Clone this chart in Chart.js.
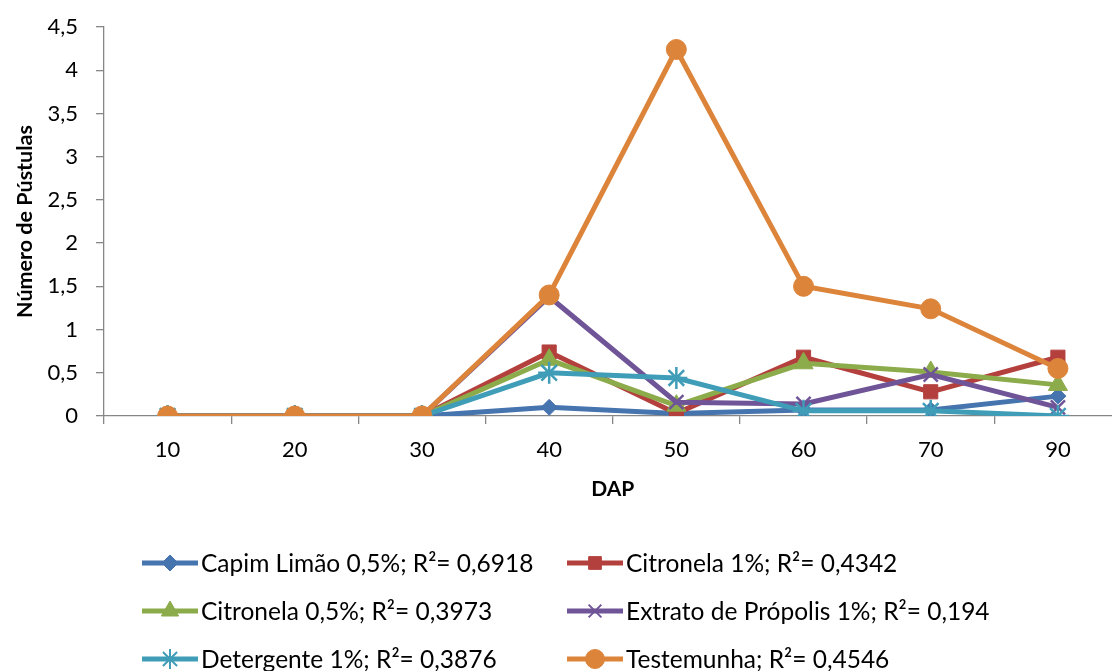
<!DOCTYPE html>
<html>
<head>
<meta charset="utf-8">
<script src="https://cdn.jsdelivr.net/npm/chart.js@4.4.1/dist/chart.umd.min.js"></script>
<style>
html,body{margin:0;padding:0;background:#fff;overflow:hidden;width:1112px;height:671px;}
#wrap{position:absolute;left:0;top:0;width:1135px;height:671px;}
</style>
</head>
<body>
<div id="wrap"><canvas id="c" width="1135" height="671"></canvas></div>
<script>
const categories = ['10','20','30','40','50','60','70','90'];
const capimLimao = [0,0,0,0.10,0.03,0.07,0.07,0.23];
const citronela1 = [0,0,0,0.74,0.03,0.68,0.28,0.68];
const citronela05 = [0,0,0,0.65,0.12,0.61,0.51,0.36];
const propolis = [0,0,0,1.38,0.16,0.14,0.48,0.10];
const detergente = [0,0,0,0.50,0.44,0.06,0.06,0.00];
const testemunha = [0,0,0,1.40,4.24,1.50,1.24,0.55];
const seriesNames = [
  'Capim Limão 0,5%; R²= 0,6918',
  'Citronela 1%; R²= 0,4342',
  'Citronela 0,5%; R²= 0,3973',
  'Extrato de Própolis 1%; R²= 0,194',
  'Detergente 1%; R²= 0,3876',
  'Testemunha; R²= 0,4546'
];
const yTicks = [0,0.5,1,1.5,2,2.5,3,3.5,4,4.5];

const FONT = 'Lato, "Open Sans", sans-serif';
const colors = ['#4674AE','#B3403D','#8CAB4A','#6F5597','#3F9DB8','#DD843B'];
const styles = [
  {pointStyle:'rectRot', radius:8, legendRadius:8},
  {pointStyle:'rect', radius:10, legendRadius:9},
  {pointStyle:'triangle', radius:11, legendRadius:10},
  {pointStyle:'crossRot', radius:10, legendRadius:9},
  {pointStyle:'star', radius:11, legendRadius:10},
  {pointStyle:'circle', radius:10, legendRadius:9.5}
];
const values = [capimLimao,citronela1,citronela05,propolis,detergente,testemunha];

const datasets = values.map((v,i)=>({
  label: seriesNames[i],
  data: v,
  borderColor: colors[i],
  backgroundColor: colors[i],
  borderWidth: 5,
  pointStyle: styles[i].pointStyle,
  pointRadius: styles[i].radius,
  pointBorderWidth: (i===3||i===4)?2.5:1,
  pointBorderColor: colors[i],
  pointBackgroundColor: colors[i],
  tension: 0,
  order: 5 - i
}));

const legendPlugin = {
  id: 'customLegend',
  afterDraw(chart){
    const ctx = chart.ctx;
    const rows = [563, 611, 659];
    const cols = [142, 567];
    ctx.save();
    ctx.font = '24.5px ' + FONT;
    ctx.textBaseline = 'middle';
    datasets.forEach((d,i)=>{
      const x = cols[i%2], y = rows[Math.floor(i/2)];
      ctx.strokeStyle = d.borderColor;
      ctx.lineWidth = 5;
      ctx.beginPath(); ctx.moveTo(x,y); ctx.lineTo(x+56,y); ctx.stroke();
      ctx.fillStyle = d.borderColor;
      ctx.lineWidth = (i===3||i===4)?2:1;
      Chart.helpers.drawPoint(ctx, {pointStyle:d.pointStyle, radius:styles[i].legendRadius, borderWidth:ctx.lineWidth, rotation:0}, x+28, y);
      ctx.fillStyle = '#000';
      ctx.fillText(d.label, x+59, y+1);
    });
    ctx.restore();
  }
};

new Chart(document.getElementById('c'), {
  type: 'line',
  data: { labels: categories, datasets },
  plugins: [legendPlugin],
  options: {
    responsive: false,
    animation: false,
    layout: { padding: { top: 27, left: 0, right: 0, bottom: 165 } },
    plugins: { legend: { display: false }, tooltip: { enabled: false } },
    scales: {
      x: {
        offset: true,
        afterFit(s){ s.height = 90; },
        grid: { offset: true, drawOnChartArea: false, color: '#868686', tickLength: 8, lineWidth: 1.3 },
        border: { color: '#868686', width: 1.3 },
        ticks: { color: '#000', font: { family: FONT, size: 22 }, padding: 13, maxRotation: 0 },
        title: { display: true, text: 'DAP', color: '#000', font: { family: FONT, size: 21, weight: 'bold' }, padding: { top: 10 } }
      },
      y: {
        min: 0, max: 4.5,
        afterFit(s){ s.width = 104; s.paddingTop = 0; s.paddingBottom = 0; },
        afterBuildTicks(s){ s.ticks = yTicks.map(v=>({value:v})); },
        grid: { drawOnChartArea: false, color: '#868686', tickLength: 8, lineWidth: 1.3 },
        border: { color: '#868686', width: 1.3 },
        ticks: { color: '#000', font: { family: FONT, size: 22 }, padding: 18,
          callback: v => String(v).replace('.', ',') },
        title: { display: true, text: 'Número de Pústulas', color: '#000', font: { family: FONT, size: 21.5, weight: 'bold' }, padding: { top: 12, bottom: 0 } }
      }
    }
  }
});
</script>
</body>
</html>
